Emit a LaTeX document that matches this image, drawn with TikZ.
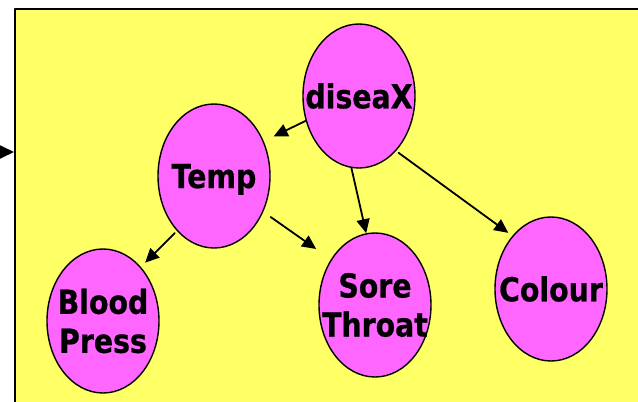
\documentclass[tikz,border=0pt]{standalone}
\usepackage{fontspec}
\usepackage{tikz}
\usetikzlibrary{arrows.meta,shapes.geometric}
\newfontfamily\varfont{DejaVu Sans}[FakeStretch=0.86, FakeBold=0.6]
\definecolor{panel}{HTML}{FFFF66}
\definecolor{varfill}{HTML}{FF66FF}

\begin{document}
\begin{tikzpicture}[
			x=1pt, y=-1pt,
			line cap=round,
			line join=round,
			var/.style={ellipse, draw, line width=1.4pt, fill=varfill,
				minimum width=112pt, minimum height=144pt, inner sep=0pt},
			vtext/.style={font=\varfont\bfseries\fontsize{33}{39}\selectfont,
				align=center, inner sep=0pt},
			link/.style={-{Triangle[length=14pt,width=13pt]}, line width=1.8pt}
			]
			% Frame
			\useasboundingbox (0,0) rectangle (638,402);
			\clip (0,0) rectangle (638,402);
			\draw[line width=2pt, fill=panel] (15,9) rectangle (660,430);
			
			% Incoming arrow on the left edge
			\coordinate (src) at (-20,152);
			\coordinate (in) at (14,152);
			\draw[link] (src) -- (in);
			
			% Variables
			\node[var, label={[vtext]center:diseaX}] (dis) at (359,96) {};
			\node[var, label={[vtext, text depth=0pt]center:Temp}] (temp) at (214,176) {};
			\node[var, label={[vtext]center:Blood\\Press}] (blood) at (103,321) {};
			\node[var, label={[vtext]center:Sore\\Throat}] (sore) at (375,305) {};
			\node[var, label={[vtext]center:Colour}] (col) at (551,289) {};
			
			% Dependencies
			\draw[link, shorten >=11pt] (dis.205) -- (temp.35);
			\draw[link, shorten <=3pt, shorten >=6pt] (temp.236) -- (blood.55);
			\draw[link, shorten <=9pt, shorten >=18pt] (temp.324) -- (sore.134);
			\draw[link] (dis.264) -- (sore.97);
			\draw[link, shorten <=3pt, shorten >=5pt] (dis.304) -- (col.126);
		\end{tikzpicture}
\end{document}
